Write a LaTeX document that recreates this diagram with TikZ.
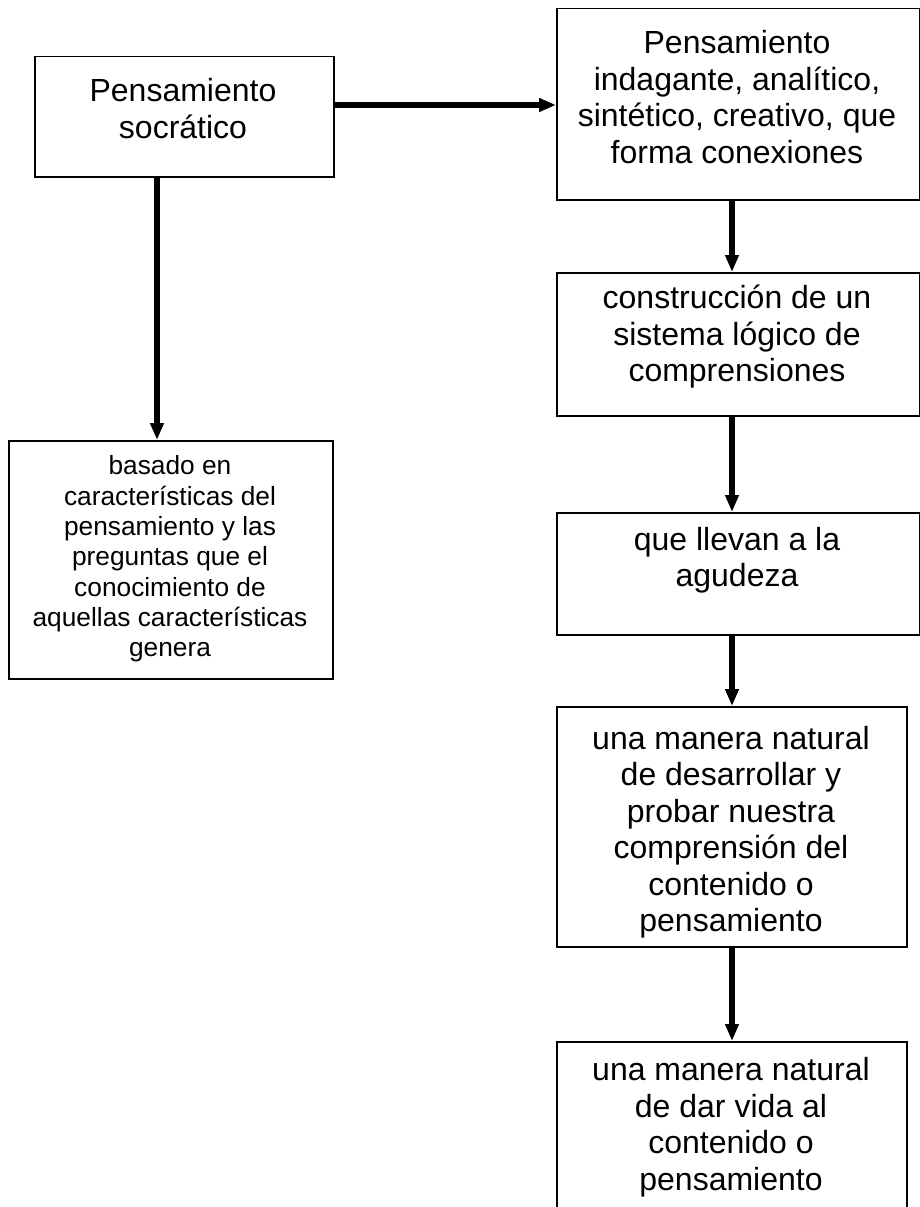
\documentclass[tikz,border=0pt]{standalone}
\usepackage{fontspec}
\setmainfont{Liberation Sans}
\usetikzlibrary{arrows.meta}
\begin{document}
\begin{tikzpicture}[x=1pt,y=-1pt,
  box/.style={draw=black, line width=1.5pt, rectangle, inner sep=0pt, anchor=north west},
  big/.style={align=center, font=\fontsize{32}{36.5}\selectfont, inner sep=0pt},
  small/.style={align=center, font=\fontsize{26.3}{30.3}\selectfont, inner sep=0pt},
  arr/.style={line width=6pt, -{Triangle[width=13pt,length=17pt]}}]
\useasboundingbox (0,0) rectangle (920,1207);
\fill[white] (0,0) rectangle (920,1207);
% boxes
\node[box, minimum width=299pt, minimum height=120pt] (soc) at (34,56) {};
\node[box, minimum width=324pt, minimum height=238pt] (bas) at (8,440) {};
\node[box, minimum width=362.5pt, minimum height=191pt] (r0) at (556,8) {};
\node[box, minimum width=362.5pt, minimum height=143pt] (r1) at (556,272) {};
\node[box, minimum width=362.5pt, minimum height=122pt] (r2) at (556,512) {};
\node[box, minimum width=350pt, minimum height=240pt] (r3) at (556,706) {};
\node[box, minimum width=350pt, minimum height=172pt] (r4) at (556,1041) {};
% texts
\node[big] (tsoc) at (183,108.5) {Pensamiento\\socrático};
\node[small] (tbas) at (170,559) {basado en\\características del\\pensamiento y las\\preguntas que el\\conocimiento de\\aquellas características\\genera};
\node[big] (tr0) at (737,97) {Pensamiento\\indagante, analítico,\\sintético, creativo, que\\forma conexiones};
\node[big] (tr1) at (737,337) {construcción de un\\sistema lógico de\\comprensiones};
\node[big] (tr2) at (737,560) {que llevan a la\\agudeza};
\node[big] (tr3) at (731,832) {una manera natural\\de desarrollar y\\probar nuestra\\comprensión del\\contenido o\\pensamiento};
\node[big] (tr4) at (731,1127) {una manera natural\\de dar vida al\\contenido o\\pensamiento};
% connectors
\coordinate (lcol) at (157,0);
\coordinate (rcol) at (732,0);
\coordinate (row) at (0,105);
\draw[arr] (soc.east |- row) -- (r0.west |- row);
\draw[arr] (soc.south -| lcol) -- (bas.north -| lcol);
\draw[arr] (r0.south -| rcol) -- (r1.north -| rcol);
\draw[arr] (r1.south -| rcol) -- (r2.north -| rcol);
\draw[arr] (r2.south -| rcol) -- (r3.north -| rcol);
\draw[arr] (r3.south -| rcol) -- (r4.north -| rcol);
\end{tikzpicture}
\end{document}
